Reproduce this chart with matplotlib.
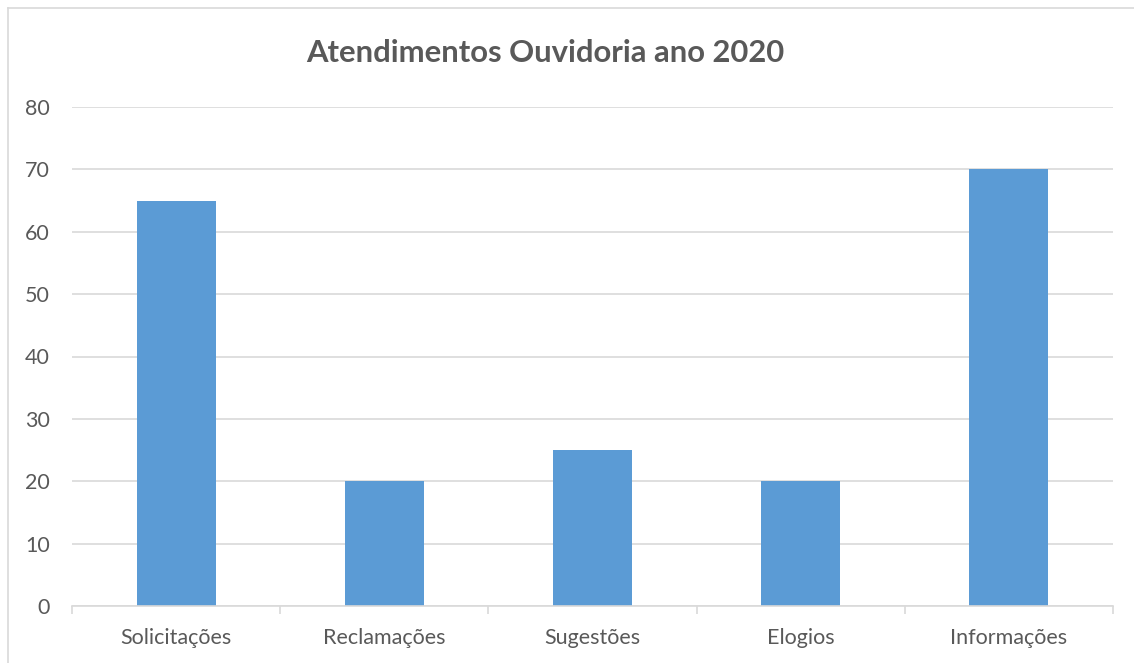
import matplotlib
matplotlib.use("Agg")
import matplotlib.pyplot as plt
from matplotlib.lines import Line2D
import numpy as np

categories = ["Solicitações", "Reclamações", "Sugestões", "Elogios", "Informações"]
values = [65, 20, 25, 20, 70]
yticks = [0, 10, 20, 30, 40, 50, 60, 70, 80]
title = "Atendimentos Ouvidoria ano 2020"

plt.rcParams['font.family'] = ['Lato', 'DejaVu Sans']
W, H = 1134, 663
fig = plt.figure(figsize=(W/100, H/100), dpi=100)
ax = fig.add_axes([72/W, 1-606/H, (1113-72)/W, (606-107)/H])

text_c = "#595959"
grid_c = "#D9D9D9"
x = np.arange(len(categories))
ax.bar(x, values, width=0.38, color="#5B9BD5", zorder=3)
ax.set_xlim(-0.5, len(categories)-0.5)
ax.set_ylim(0, 80)
ax.set_yticks(yticks)
ax.set_yticklabels([str(v) for v in yticks], fontsize=15.5, color=text_c)
ax.tick_params(axis='y', length=0, pad=16)
ax.set_xticks(x)
ax.set_xticklabels(categories, fontsize=15.5, color=text_c)
ax.tick_params(axis='x', length=0, pad=16)
ax.set_xticks(np.arange(-0.5, len(categories), 1.0), minor=True)
ax.tick_params(axis='x', which='minor', length=6, color=grid_c, width=1.2)
ax.grid(axis='y', color=grid_c, linewidth=1.2, zorder=0)
for s in ['top', 'right', 'left']:
    ax.spines[s].set_visible(False)
ax.spines['bottom'].set_color(grid_c)
ax.spines['bottom'].set_linewidth(1.2)
ax.spines['bottom'].set_zorder(4)

fig.text(545/W, 1-53/H, title, ha='center', va='center', fontsize=22.3,
         fontweight='bold', color=text_c)

fig.add_artist(Line2D([7.5/W, 7.5/W], [0, 1-7.5/H], color=grid_c, linewidth=1.2, transform=fig.transFigure))
fig.add_artist(Line2D([7.5/W, 1], [1-7.5/H, 1-7.5/H], color=grid_c, linewidth=1.2, transform=fig.transFigure))

fig.savefig("out.png", dpi=100)
